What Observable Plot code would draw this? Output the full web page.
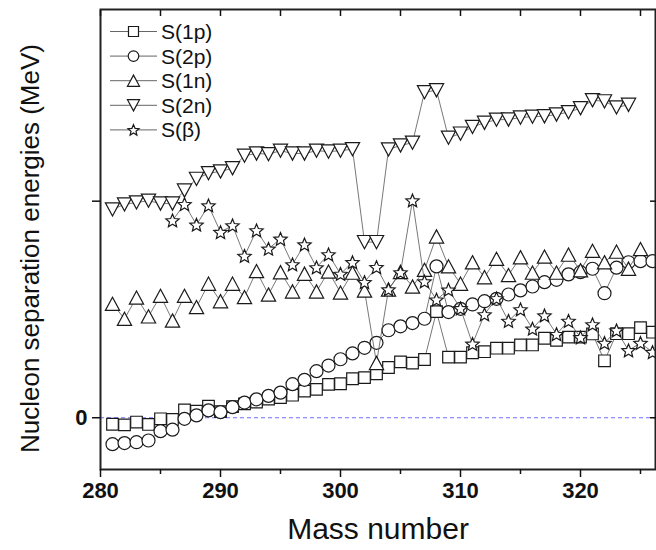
<!DOCTYPE html>
<html><head><meta charset="utf-8">
<script src="https://cdn.jsdelivr.net/npm/d3@7"></script>
<script src="https://cdn.jsdelivr.net/npm/@observablehq/plot@0.6"></script>
<style>
html,body{margin:0;padding:0;background:#fff;}
#chart{width:656px;height:550px;position:relative;overflow:hidden;}
</style></head><body><div id="chart"></div>
<script>
// ---- data ----
const massNumbers = [281,282,283,284,285,286,287,288,289,290,291,292,293,294,295,296,297,298,299,300,301,302,303,304,305,306,307,308,309,310,311,312,313,314,315,316,317,318,319,320,321,322,323,324,325,326];
const massBeta = [286,287,288,289,290,291,292,293,294,295,296,297,298,299,300,301,302,303,304,305,306,307,308,309,310,311,312,313,314,315,316,317,318,319,320,321,322,323,324,325,326];
const s1p = [-0.30,-0.33,-0.20,-0.31,-0.05,-0.08,0.36,0.30,0.53,0.28,0.51,0.64,0.72,0.86,0.93,1.04,1.23,1.31,1.54,1.57,1.80,1.85,2.03,2.32,2.58,2.52,2.69,4.90,2.80,2.80,3.00,3.05,3.21,3.21,3.36,3.36,3.67,3.57,3.72,3.72,3.87,2.63,3.88,3.88,4.16,3.95];
const s2p = [-1.22,-1.17,-1.13,-1.05,-0.62,-0.55,-0.05,0.11,0.34,0.26,0.49,0.70,0.85,1.01,1.16,1.55,1.75,2.15,2.41,2.70,2.97,3.23,3.46,4.04,4.22,4.37,4.57,6.99,4.88,5.03,5.23,5.38,5.49,5.69,5.88,6.06,6.26,6.37,6.62,6.72,6.88,5.75,6.93,7.18,7.23,7.23];
const s1n = [5.26,4.57,5.55,4.68,5.63,4.49,5.63,5.11,6.19,5.38,6.19,5.57,6.77,5.69,6.72,5.83,6.65,5.83,6.75,5.78,6.70,5.87,2.53,5.92,6.73,6.06,6.83,8.37,6.99,6.19,7.18,6.49,7.34,6.59,7.41,6.70,7.44,6.70,7.53,6.81,7.71,7.18,7.67,6.88,7.79];
const s2n = [9.62,9.85,9.94,10.02,9.89,9.89,10.49,11.03,11.29,11.37,11.52,12.10,12.20,12.17,12.33,12.20,12.20,12.33,12.29,12.33,12.40,8.11,8.11,12.39,12.57,12.70,15.03,15.12,12.93,13.12,13.43,13.62,13.76,13.77,13.86,13.90,13.92,14.00,14.11,14.29,14.66,14.61,14.33,14.45];
const sBeta = [9.11,9.86,8.91,9.80,8.57,8.88,7.47,8.65,7.80,8.26,7.08,8.00,6.94,7.54,6.64,7.18,6.26,6.95,5.92,6.71,10.03,6.29,5.45,5.91,5.05,3.41,4.77,5.51,4.47,5.00,4.11,4.72,3.86,4.47,3.71,4.31,3.45,4.03,3.11,3.45,3.03];
const seriesNames = ["S(1p)","S(2p)","S(1n)","S(2n)","S(\u03b2)"];
const xTicksMajor = [280,290,300,310,320];
const xTicksMinor = [285,295,305,315,325];
const yTicks = [0,10];
const yTickLabels = ["0",""];
const xTitle = "Mass number";
const yTitle = "Nucleon separation energies (MeV)";

// ---- marker shapes (r = half extent in px) ----
const half = size => Math.sqrt(size / Math.PI);
const symSquare = {draw(c, s){const r=half(s); c.moveTo(-r,-r); c.lineTo(r,-r); c.lineTo(r,r); c.lineTo(-r,r); c.closePath();}};
const symTriUp = {draw(c, s){const r=half(s), w=r*1.08; c.moveTo(0,-r); c.lineTo(w,r); c.lineTo(-w,r); c.closePath();}};
const symTriDown = {draw(c, s){const r=half(s), w=r*1.08; c.moveTo(0,r); c.lineTo(w,-r); c.lineTo(-w,-r); c.closePath();}};
const symStar = {draw(c, s){const R=half(s), ri=R*0.45; for(let i=0;i<10;i++){const a=-Math.PI/2+i*Math.PI/5, rr=i%2?ri:R; const px=rr*Math.cos(a), py=rr*Math.sin(a)+R*0.09; if(i===0) c.moveTo(px,py); else c.lineTo(px,py);} c.closePath();}};

const rows = (xs, ys) => ys.map((y, i) => ({x: xs[i], y}));
const series = [
  {name: seriesNames[0], data: rows(massNumbers, s1p), symbol: symSquare, r: 5.8, legSym: symSquare, legR: 5},
  {name: seriesNames[1], data: rows(massNumbers, s2p), symbol: "circle", r: 6.5, legSym: d3.symbolCircle, legR: 5.3},
  {name: seriesNames[2], data: rows(massNumbers, s1n), symbol: symTriUp, r: 6.6, legSym: symTriUp, legR: 5.6},
  {name: seriesNames[3], data: rows(massNumbers, s2n), symbol: symTriDown, r: 6.6, legSym: symTriDown, legR: 5.6},
  {name: seriesNames[4], data: rows(massBeta, sBeta), symbol: symStar, r: 7, legSym: symStar, legR: 5.8}
];

const plot = Plot.plot({
  width: 656, height: 550,
  marginLeft: 100, marginRight: 1, marginTop: 9, marginBottom: 81,
  style: {fontFamily: "'Liberation Sans', Arial, sans-serif", color: "#111", background: "#fff"},
  x: {domain: [280, 326.25], label: null},
  y: {domain: [-2.39, 18.85], label: null},
  marks: [
    Plot.ruleY([0], {stroke: "#7070ff", strokeDasharray: "4,3", strokeWidth: 1}),
    ...series.flatMap(s => [
      Plot.line(s.data, {x: "x", y: "y", stroke: "#555", strokeWidth: 0.8}),
      Plot.dot(s.data, {x: "x", y: "y", symbol: s.symbol, r: s.r, fill: "white", stroke: "#1a1a1a", strokeWidth: 1.2})
    ]),
    Plot.frame({stroke: "#222", strokeWidth: 2}),
    Plot.axisX(xTicksMajor, {anchor: "bottom", tickSize: 8, tickPadding: 5, fontWeight: "bold", fontSize: 22, strokeWidth: 1.5, label: null}),
    Plot.axisX(xTicksMinor, {anchor: "bottom", tickSize: 5, strokeWidth: 1.5, text: null, label: null}),
    Plot.axisX([...xTicksMajor, ...xTicksMinor], {anchor: "top", tickSize: -6, strokeWidth: 1.5, text: null, label: null}),
    Plot.axisY(yTicks, {anchor: "left", tickSize: 8, tickPadding: 5, strokeWidth: 1.5, fontWeight: "bold", fontSize: 22, tickFormat: d => yTickLabels[yTicks.indexOf(d)], label: null}),
    Plot.axisY(yTicks, {anchor: "right", tickSize: -6, strokeWidth: 1.5, text: null, label: null}),
    Plot.text([xTitle], {frameAnchor: "bottom", dy: 60, fontSize: 30, textAnchor: "middle", lineAnchor: "middle", fill: "#111"}),
    Plot.text([yTitle], {frameAnchor: "left", dx: -70, dy: 9, rotate: -90, fontSize: 26, textAnchor: "middle", lineAnchor: "middle", fill: "#111"})
  ]
});
document.getElementById("chart").appendChild(plot);

// ---- legend (inside the frame, top-left) ----
const svg = d3.select(plot);
const leg = svg.append("g").attr("font-family", "'Liberation Sans', Arial, sans-serif").attr("font-size", 21).attr("text-anchor", "start");
series.forEach((s, i) => {
  const y = 31.5 + i * 24.6;
  leg.append("line").attr("x1", 110).attr("x2", 157).attr("y1", y).attr("y2", y).attr("stroke", "#555").attr("stroke-width", 0.9);
  leg.append("path").attr("transform", `translate(133.5,${y})`)
    .attr("d", d3.symbol(s.legSym, Math.PI * s.legR * s.legR)())
    .attr("fill", "white").attr("stroke", "#1a1a1a").attr("stroke-width", 1.2);
  leg.append("text").attr("x", 161).attr("y", y).attr("dy", "0.36em").attr("text-anchor", "start").attr("fill", "#111").text(s.name);
});
</script></body></html>
